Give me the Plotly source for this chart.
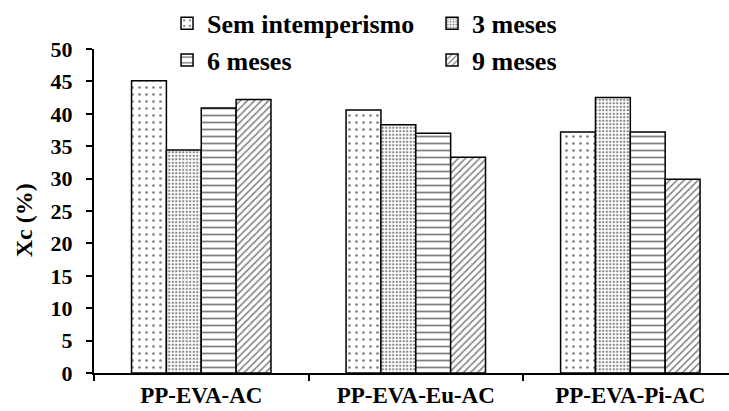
import plotly.graph_objects as go

categories = ["PP-EVA-AC", "PP-EVA-Eu-AC", "PP-EVA-Pi-AC"]
series_names = ["Sem intemperismo", "3 meses", "6 meses", "9 meses"]
sem_intemperismo = [45.1, 40.6, 37.2]
tres_meses = [34.4, 38.3, 42.5]
seis_meses = [40.9, 37.0, 37.2]
nove_meses = [42.2, 33.3, 29.9]
y_ticks = [0, 5, 10, 15, 20, 25, 30, 35, 40, 45, 50]

values = [sem_intemperismo, tres_meses, seis_meses, nove_meses]
patterns = [
    dict(shape=".", size=7, solidity=0.12, fgcolor="black", bgcolor="white", fillmode="overlay"),
    dict(shape=".", size=3.5, solidity=0.35, fgcolor="black", bgcolor="white", fillmode="overlay"),
    dict(shape="-", size=7, solidity=0.25, fgcolor="black", bgcolor="white", fillmode="overlay"),
    dict(shape="/", size=5, solidity=0.3, fgcolor="black", bgcolor="white", fillmode="overlay"),
]

FONT = "Liberation Serif"

fig = go.Figure()
for name, vals, pat in zip(series_names, values, patterns):
    fig.add_trace(go.Bar(
        x=categories, y=vals, name=name,
        marker=dict(color="white", pattern=pat, line=dict(color="black", width=1.5)),
    ))

fig.update_layout(
    width=729, height=411,
    margin=dict(l=94, r=0, t=49, b=38, autoexpand=False),
    paper_bgcolor="white", plot_bgcolor="white",
    barmode="group", bargap=0.35, bargroupgap=0,
    font=dict(family=FONT, color="black"),
    legend=dict(
        orientation="h", x=0.115, y=1.152, xanchor="left", yanchor="top",
        entrywidth=220, entrywidthmode="pixels",
        font=dict(family=FONT, size=26, weight="bold"),
        bgcolor="rgba(0,0,0,0)", tracegroupgap=0,
    ),
    xaxis=dict(
        range=[-0.5, 2.46], showline=True, linecolor="black", linewidth=2,
        ticks="outside", ticklen=6, tickwidth=2, tickcolor="black",
        tickson="boundaries", showgrid=False, ticklabelstandoff=0,
        tickfont=dict(family=FONT, size=23, weight="bold"),
    ),
    yaxis=dict(
        range=[0, 50], tickvals=y_ticks, showline=True, linecolor="black", linewidth=2,
        ticks="outside", ticklen=6, tickwidth=2, tickcolor="black",
        showgrid=False, zeroline=False, ticklabelstandoff=9,
        tickfont=dict(family=FONT, size=22, weight="bold"),
    ),
    annotations=[dict(
        text="Xc (%)", textangle=-90, xref="paper", yref="paper",
        x=-0.111, y=0.47, xanchor="center", yanchor="middle", showarrow=False,
        font=dict(family=FONT, size=24, weight="bold"),
    )],
)

fig.write_html(
    "out.html",
    config={"displayModeBar": False},
    post_script="document.body.style.margin='0';document.body.style.overflow='hidden';",
)
